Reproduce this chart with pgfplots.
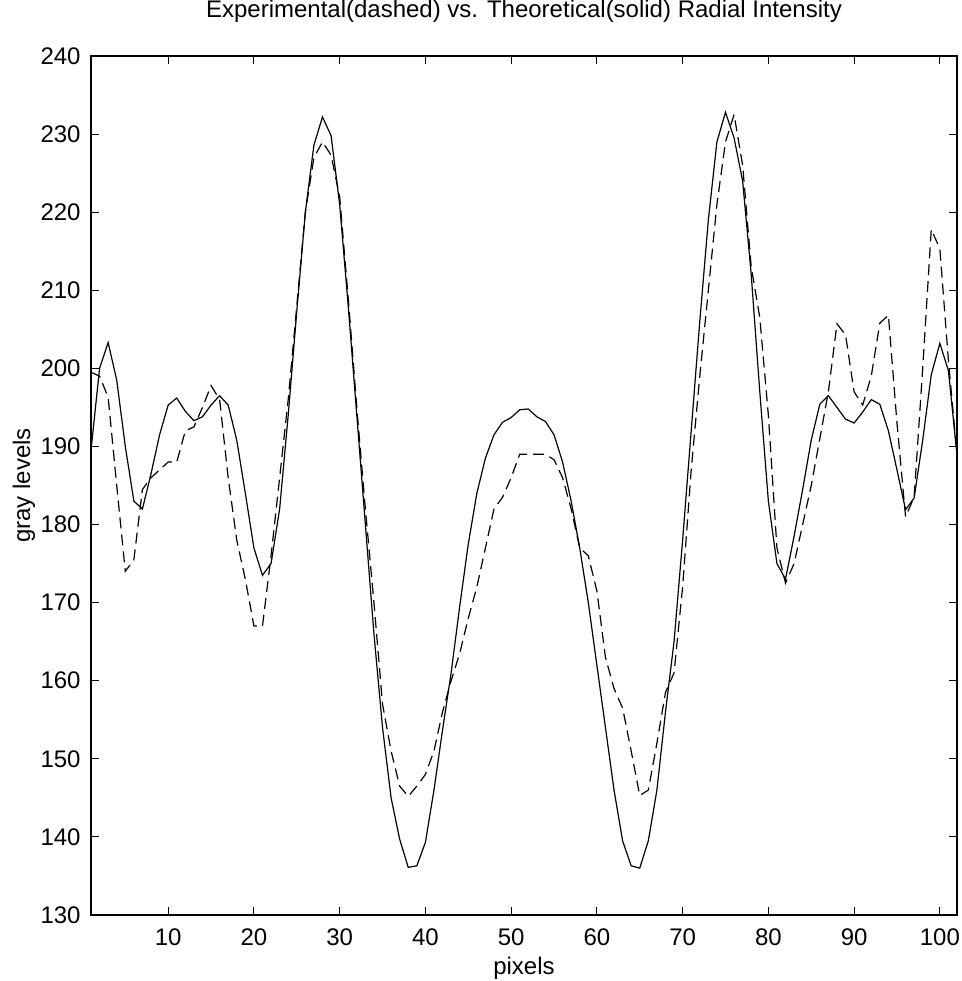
\documentclass[border=0pt]{standalone}
\usepackage{fontspec}
\setmainfont{Liberation Sans}
\usepackage{pgfplots}
\pgfplotsset{compat=1.18}
\begin{document}
\fontsize{12pt}{14pt}\selectfont
\begin{tikzpicture}
\begin{axis}[
  name=ax,
  scale only axis,
  width=433pt, height=429.5pt,
  xmin=1, xmax=102, ymin=130, ymax=240,
  xtick={10,20,...,100},
  ytick={130,140,...,240},
  tick align=inside,
  tick pos=both,
  major tick length=4pt,
  tick style={black, line width=0.5pt},
  axis line style={black, line width=0.6pt},
  /pgf/number format/assume math mode=true,
  yticklabel style={inner sep=0pt, anchor=east, xshift=-5pt},
  xticklabel style={inner sep=0pt, anchor=north, yshift=-6.5pt},
  title={Experimental(dashed) vs. Theoretical(solid) Radial Intensity},
  title style={at={(axis description cs:0.5,1.0303)}, anchor=base, inner sep=0pt},
  xlabel={pixels},
  xlabel style={at={(axis description cs:0.5,-0.0687)}, anchor=base, inner sep=0pt},
  ylabel={gray levels},
  ylabel style={at={(axis description cs:-0.0704,0.5)}, anchor=base, inner sep=0pt},
]
\addplot[black, line width=0.6pt] coordinates {
(1,189.5) (2,200) (3,203.3) (4,198.5) (5,190) (6,183) (7,182) (8,186.5) (9,191.5) (10,195.3)
(11,196.2) (12,194.5) (13,193.3) (14,193.8) (15,195.3) (16,196.5) (17,195.3) (18,190.8) (19,184) (20,177)
(21,173.5) (22,175) (23,182) (24,194) (25,207.3) (26,220) (27,228.6) (28,232.2) (29,229.8) (30,221)
(31,208) (32,194) (33,180) (34,166) (35,154) (36,145) (37,139.7) (38,136.1) (39,136.3) (40,139.3)
(41,146) (42,153.7) (43,161) (44,169.5) (45,177.5) (46,184) (47,188.5) (48,191.5) (49,193.1) (50,193.7)
(51,194.7) (52,194.8) (53,193.8) (54,193.2) (55,191.5) (56,188) (57,183) (58,177) (59,170) (60,162)
(61,154) (62,146) (63,139.5) (64,136.3) (65,136) (66,139.5) (67,146) (68,156) (69,165) (70,178)
(71,192) (72,206) (73,219) (74,229) (75,232.8) (76,229.5) (77,224) (78,212) (79,197) (80,183)
(81,175) (82,173) (83,178.5) (84,184.5) (85,190.8) (86,195.4) (87,196.5) (88,195) (89,193.5) (90,193)
(91,194.4) (92,196) (93,195.4) (94,192) (95,187) (96,181.9) (97,183.4) (98,190.8) (99,199.2) (100,203.2)
(101,199.7) (102,188.9)
};
\addplot[black, line width=0.6pt, dash pattern=on 5.5pt off 3pt] coordinates {
(1,199.5) (2,199) (3,196.3) (4,185) (5,174) (6,175.5) (7,184.5) (8,186) (9,187) (10,188)
(11,188) (12,192) (13,192.5) (14,195) (15,197.8) (16,196) (17,186) (18,178) (19,173) (20,167)
(21,167) (22,176) (23,186) (24,196) (25,208) (26,220) (27,227) (28,229) (29,227.3) (30,222)
(31,209) (32,195) (33,182) (34,170) (35,157) (36,151) (37,146.5) (38,145.2) (39,146.5) (40,148)
(41,151) (42,156) (43,160) (44,163.5) (45,168) (46,172) (47,177) (48,182) (49,183.5) (50,186)
(51,189) (52,189) (53,189) (54,189) (55,188.3) (56,186) (57,182) (58,177) (59,176) (60,171.5)
(61,163) (62,159) (63,156.5) (64,151) (65,145.3) (66,146) (67,152) (68,158.5) (69,161) (70,172)
(71,187) (72,199) (73,210) (74,221) (75,229) (76,232.5) (77,226) (78,213) (79,206.5) (80,194)
(81,177) (82,172.5) (83,175) (84,180) (85,185) (86,191) (87,197) (88,205.7) (89,204.3) (90,197)
(91,195.3) (92,199) (93,205.8) (94,206.8) (95,193) (96,181) (97,183.5) (98,200) (99,217.8) (100,215.3)
(101,201) (102,189)
};
\end{axis}
\pgfresetboundingbox
\path ([shift={(-45.5pt,-33pt)}]ax.south west) rectangle ([shift={(2.5pt,28pt)}]ax.north east);
\end{tikzpicture}
\end{document}
